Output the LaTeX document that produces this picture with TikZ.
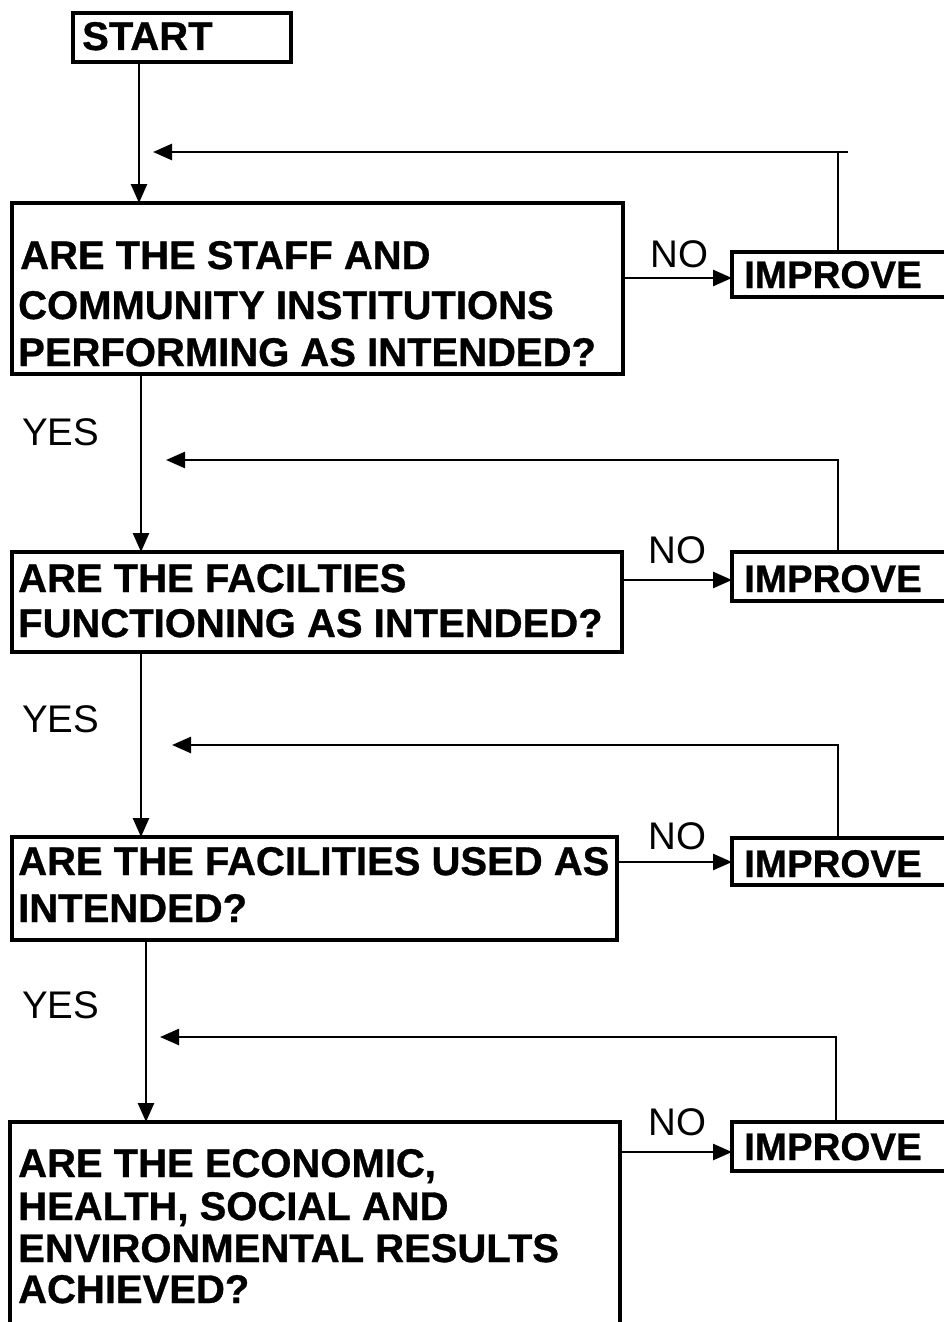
\documentclass[tikz,border=0pt]{standalone}
\usepackage{fontspec}
\setmainfont{Liberation Sans}[BoldFeatures={FakeBold=0.8}]
\usetikzlibrary{arrows.meta}

\tikzset{
  box/.style={draw, line width=3.6pt, inner sep=0pt, outer sep=0pt, anchor=north west},
  qtext/.style={font=\bfseries\fontsize{40}{40}\selectfont, inner sep=0pt, anchor=base west},
  itext/.style={font=\bfseries\fontsize{38.5}{38.5}\selectfont, inner sep=0pt, anchor=base west},
  lbl/.style={font=\fontsize{38.5}{38.5}\selectfont, inner sep=0pt, anchor=base west},
  link/.style={line width=2.6pt},
  flow/.style={line width=2.6pt, -{Triangle[length=19pt,width=16pt]}},
}

\begin{document}
\begin{tikzpicture}[x=1pt, y=-1pt]
\useasboundingbox (0,0) rectangle (944,1322);
\fill[white] (0,0) rectangle (944,1322);

% --- boxes ---
\node[box, minimum width=218pt, minimum height=49pt] (start) at (73,13) {};
\node[box, minimum width=611pt, minimum height=171pt] (q1) at (12,203) {};
\node[box, minimum width=610pt, minimum height=100pt] (q2) at (12,552) {};
\node[box, minimum width=605pt, minimum height=103pt] (q3) at (12,837) {};
\node[box, minimum width=610pt, minimum height=260pt] (q4) at (10,1122) {};

\node[box, minimum width=260pt, minimum height=45pt] (imp1) at (732,252) {};
\node[box, minimum width=260pt, minimum height=49pt] (imp2) at (732,552) {};
\node[box, minimum width=260pt, minimum height=47pt] (imp3) at (732,838) {};
\node[box, minimum width=260pt, minimum height=49pt] (imp4) at (732,1122) {};

% --- box texts ---
\node[qtext] (tstart) at (82,50) {START};

\node[qtext] (t1a) at (20,269) {ARE THE STAFF AND};
\node[qtext] (t1b) at (18,319) {COMMUNITY INSTITUTIONS};
\node[qtext] (t1c) at (18,366) {PERFORMING AS INTENDED?};

\node[qtext] (t2a) at (18,592) {ARE THE FACILTIES};
\node[qtext] (t2b) at (18,637) {FUNCTIONING AS INTENDED?};

\node[qtext] (t3a) at (18,875) {ARE THE FACILITIES USED AS};
\node[qtext] (t3b) at (18,922) {INTENDED?};

\node[qtext] (t4a) at (18,1177) {ARE THE ECONOMIC,};
\node[qtext] (t4b) at (18,1220) {HEALTH, SOCIAL AND};
\node[qtext] (t4c) at (18,1262) {ENVIRONMENTAL RESULTS};
\node[qtext] (t4d) at (18,1303) {ACHIEVED?};

\node[itext] (ti1) at (744,288) {IMPROVE};
\node[itext] (ti2) at (744,592) {IMPROVE};
\node[itext] (ti3) at (744,877) {IMPROVE};
\node[itext] (ti4) at (744,1160) {IMPROVE};

% --- YES / NO labels ---
\node[lbl] (yes1) at (22,445) {YES};
\node[lbl] (yes2) at (22,732) {YES};
\node[lbl] (yes3) at (22,1018) {YES};

\node[lbl] (no1) at (650,267) {NO};
\node[lbl] (no2) at (648,563) {NO};
\node[lbl] (no3) at (648,849) {NO};
\node[lbl] (no4) at (648,1135) {NO};

% --- main downward flow ---
\coordinate (m1) at (139,0);
\coordinate (m2) at (141,0);
\coordinate (m3) at (141,0);
\coordinate (m4) at (146,0);
\draw[flow] (m1 |- start.south) -- (m1 |- q1.north);
\draw[flow] (m2 |- q1.south) -- (m2 |- q2.north);
\draw[flow] (m3 |- q2.south) -- (m3 |- q3.north);
\draw[flow] (m4 |- q3.south) -- (m4 |- q4.north);

% --- NO branches ---
\coordinate (n1) at (0,278);
\coordinate (n2) at (0,580);
\coordinate (n3) at (0,862);
\coordinate (n4) at (0,1152);
\draw[flow] (n1 -| q1.east) -- (n1 -| imp1.west);
\draw[flow] (n2 -| q2.east) -- (n2 -| imp2.west);
\draw[flow] (n3 -| q3.east) -- (n3 -| imp3.west);
\draw[flow] (n4 -| q4.east) -- (n4 -| imp4.west);

% --- feedback loops ---
\coordinate (r1) at (838,152);  \coordinate (e1) at (153,152);
\coordinate (r2) at (838,460);  \coordinate (e2) at (166,460);
\coordinate (r3) at (838,745);  \coordinate (e3) at (172,745);
\coordinate (r4) at (836,1037); \coordinate (e4) at (160,1037);

\draw[link] (r1 |- imp1.north) -- (r1);
\draw[flow] ([xshift=10pt]r1) -- (e1);
\draw[flow] (r2 |- imp2.north) -- (r2) -- (e2);
\draw[flow] (r3 |- imp3.north) -- (r3) -- (e3);
\draw[flow] (r4 |- imp4.north) -- (r4) -- (e4);
\end{tikzpicture}
\end{document}
